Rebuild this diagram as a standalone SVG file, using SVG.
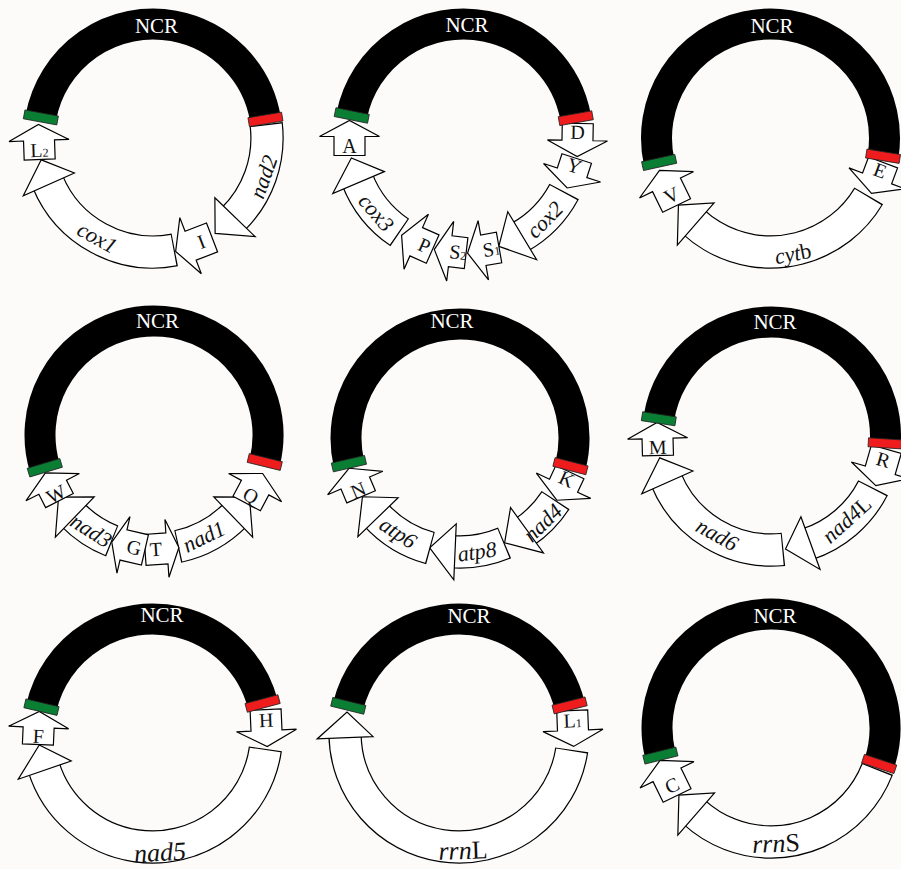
<svg xmlns="http://www.w3.org/2000/svg" xmlns:xlink="http://www.w3.org/1999/xlink" width="901" height="869" viewBox="0 0 901 869">
<style>
.ncr{fill:none;stroke:#000;stroke-width:31}
.ob{fill:none;stroke:#000;stroke-width:33.4}
.ow{fill:none;stroke:#fff;stroke-width:31}
.sh{fill:#fff;stroke:#000;stroke-width:1.2;stroke-linejoin:miter}
.g{fill:#0a7f34;stroke:#222;stroke-width:0.8}
.r{fill:#ee1c1c;stroke:#222;stroke-width:0.8}
.nt{font-family:"Liberation Serif",serif;font-size:21px;fill:#fff;text-anchor:middle}
.gl{font-family:"Liberation Serif",serif;font-size:22px;font-style:italic;fill:#111;text-anchor:middle}
.gl2{font-family:"Liberation Serif",serif;font-size:26px;font-style:italic;fill:#111;text-anchor:middle}
.up{font-style:normal}
.tl{font-family:"Liberation Serif",serif;font-size:20px;fill:#111;text-anchor:middle}
.sub{font-size:12px}
</style>
<defs>
<polygon id="hcw" class="sh" points="86,0 142,0 111,25.5"/>
<polygon id="hccw" class="sh" points="86,0 142,0 111,-25.5"/>
<rect id="bar" x="97" y="-4.5" width="34" height="9"/>
<polygon id="tg34" class="sh" points="-15.5,-17 15.5,-17 15.5,5 29,5 0,17 -29,5 -15.5,5"/>
<polygon id="tt34" class="sh" points="-15.5,17 15.5,17 15.5,-5 29,-5 0,-17 -29,-5 -15.5,-5"/>
<polygon id="tc31" class="sh" points="-15.5,-15.5 15.5,-15.5 15.5,-0.5 30,-0.5 0,15.5 -30,-0.5 -15.5,-0.5"/>
<polygon id="tc32" class="sh" points="-15.5,-16 15.5,-16 15.5,0 30,0 0,16 -30,0 -15.5,0"/>
<polygon id="tc33" class="sh" points="-15.5,-16.5 15.5,-16.5 15.5,0.5 30,0.5 0,16.5 -30,0.5 -15.5,0.5"/>
<polygon id="tc34" class="sh" points="-15.5,-17 15.5,-17 15.5,1 30,1 0,17 -30,1 -15.5,1"/>
<polygon id="tc35" class="sh" points="-15.5,-17.5 15.5,-17.5 15.5,1.5 30,1.5 0,17.5 -30,1.5 -15.5,1.5"/>
<polygon id="tc36" class="sh" points="-15.5,-18 15.5,-18 15.5,2 30,2 0,18 -30,2 -15.5,2"/>
<polygon id="tc37" class="sh" points="-15.5,-18.5 15.5,-18.5 15.5,2.5 30,2.5 0,18.5 -30,2.5 -15.5,2.5"/>
<polygon id="tc38" class="sh" points="-15.5,-19 15.5,-19 15.5,3 30,3 0,19 -30,3 -15.5,3"/>
<polygon id="tc39" class="sh" points="-15.5,-19.5 15.5,-19.5 15.5,3.5 30,3.5 0,19.5 -30,3.5 -15.5,3.5"/>
<polygon id="tq34" class="sh" points="-15.5,17 15.5,17 15.5,-1 30,-1 0,-17 -30,-1 -15.5,-1"/>
</defs>
<rect width="901" height="869" fill="#fdfbfa"/>

<!-- Panel 1 -->
<g id="panel1" transform="translate(153,138)">
 <g id="p1-ncr"><circle class="ncr" r="114" pathLength="360" transform="rotate(190.4)" stroke-dasharray="160.2 999"/><text class="nt" x="3.5" y="-105">NCR</text></g>
 <g id="p1-nad2">
  <circle class="ob" r="114" pathLength="360" transform="rotate(353)" stroke-dasharray="53 999"/>
  <circle class="ow" r="114" pathLength="360" transform="rotate(353.6)" stroke-dasharray="51.8 999"/>
  <use href="#hcw" transform="rotate(44)"/>
  <text class="gl" transform="translate(111,39) rotate(-70.6)" y="7">nad2</text>
 </g>
 <g id="p1-cox1">
  <circle class="ob" r="114" pathLength="360" transform="rotate(79)" stroke-dasharray="79 999"/>
  <circle class="ow" r="114" pathLength="360" transform="rotate(79.6)" stroke-dasharray="77.8 999"/>
  <use href="#hcw" transform="rotate(156)"/>
  <text class="gl" transform="translate(-56,100) rotate(29)" y="7">cox1</text>
 </g>
 <g id="p1-trnI" transform="rotate(69) translate(114,0)"><use href="#tc39"/><text class="tl" transform="translate(0,-8) rotate(-90)" y="7">I</text></g>
 <g id="p1-trnL2" transform="rotate(178) translate(114,0)"><use href="#tc35"/><text class="tl" transform="translate(0,-8) rotate(-180)" y="7">L<tspan class="sub">2</tspan></text></g>
 <g id="p1-marks"><use href="#bar" class="g" transform="rotate(190.4)"/><use href="#bar" class="r" transform="rotate(350.6)"/></g>
</g>

<!-- Panel 2 -->
<g id="panel2" transform="translate(463.5,138)">
 <g id="p2-ncr"><circle class="ncr" r="114" pathLength="360" transform="rotate(191.4)" stroke-dasharray="158.6 999"/><text class="nt" x="3.5" y="-106">NCR</text></g>
 <g id="p2-cox2">
  <circle class="ob" r="114" pathLength="360" transform="rotate(28)" stroke-dasharray="33 999"/>
  <circle class="ow" r="114" pathLength="360" transform="rotate(28.6)" stroke-dasharray="31.8 999"/>
  <use href="#hcw" transform="rotate(59)"/>
  <text class="gl" transform="translate(81.5,82) rotate(-44.8)" y="7">cox2</text>
 </g>
 <g id="p2-cox3">
  <circle class="ob" r="114" pathLength="360" transform="rotate(124)" stroke-dasharray="35 999"/>
  <circle class="ow" r="114" pathLength="360" transform="rotate(124.6)" stroke-dasharray="33.8 999"/>
  <use href="#hcw" transform="rotate(157)"/>
  <text class="gl" transform="translate(-87.5,75) rotate(49.4)" y="7">cox3</text>
 </g>
 <g id="p2-trnD" transform="rotate(1) translate(114,0)"><use href="#tc33"/><text class="tl" transform="translate(0,-8)" y="7">D</text></g>
 <g id="p2-trnY" transform="rotate(18) translate(114,0)"><use href="#tc31"/><text class="tl" transform="translate(0,-8)" y="7">Y</text></g>
 <g id="p2-trnS1" transform="rotate(80) translate(114,0)"><use href="#tc32"/><text class="tl" transform="translate(0,-8) rotate(-90)" y="7">S<tspan class="sub">1</tspan></text></g>
 <g id="p2-trnS2" transform="rotate(96.7) translate(114,0)"><use href="#tc32"/><text class="tl" transform="translate(0,-8) rotate(-90)" y="7">S<tspan class="sub">2</tspan></text></g>
 <g id="p2-trnP" transform="rotate(114) translate(114,0)"><use href="#tc34"/><text class="tl" transform="translate(0,-8) rotate(-90)" y="7">P</text></g>
 <g id="p2-trnA" transform="rotate(180) translate(114,0)"><use href="#tc35"/><text class="tl" transform="translate(0,-8) rotate(-180)" y="7">A</text></g>
 <g id="p2-marks"><use href="#bar" class="g" transform="rotate(191.4)"/><use href="#bar" class="r" transform="rotate(350)"/></g>
</g>

<!-- Panel 3 -->
<g id="panel3" transform="translate(770.5,138)">
 <g id="p3-ncr"><circle class="ncr" r="114" pathLength="360" transform="rotate(167.6)" stroke-dasharray="201.6 999"/><text class="nt" x="1.5" y="-105">NCR</text></g>
 <g id="p3-cytb">
  <circle class="ob" r="114" pathLength="360" transform="rotate(30.5)" stroke-dasharray="102.5 999"/>
  <circle class="ow" r="114" pathLength="360" transform="rotate(31.1)" stroke-dasharray="101.3 999"/>
  <use href="#hcw" transform="rotate(131)"/>
  <text class="gl" transform="translate(22.5,116) rotate(-11)" y="7">cyt<tspan class="up">b</tspan></text>
 </g>
 <g id="p3-trnE" transform="rotate(20.5) translate(114,0)"><use href="#tc33"/><text class="tl" transform="translate(0,-8)" y="7">E</text></g>
 <g id="p3-trnV" transform="rotate(154) translate(114,0)"><use href="#tc39"/><text class="tl" transform="translate(0,-8) rotate(-180)" y="7">V</text></g>
 <g id="p3-marks"><use href="#bar" class="g" transform="rotate(167.6)"/><use href="#bar" class="r" transform="rotate(9.2)"/></g>
</g>

<!-- Panel 4 -->
<g id="panel4" transform="translate(154,435)">
 <g id="p4-ncr"><circle class="ncr" r="114" pathLength="360" transform="rotate(163.3)" stroke-dasharray="210.4 999"/><text class="nt" x="3.5" y="-107">NCR</text></g>
 <g id="p4-nad1">
  <circle class="ob" r="114" pathLength="360" transform="rotate(44)" stroke-dasharray="34 999"/>
  <circle class="ow" r="114" pathLength="360" transform="rotate(44.6)" stroke-dasharray="32.8 999"/>
  <use href="#hccw" transform="rotate(46)"/>
  <text class="gl" transform="translate(50,102) rotate(-26)" y="7">nad1</text>
 </g>
 <g id="p4-nad3">
  <circle class="ob" r="114" pathLength="360" transform="rotate(111.5)" stroke-dasharray="24.5 999"/>
  <circle class="ow" r="114" pathLength="360" transform="rotate(112.1)" stroke-dasharray="23.3 999"/>
  <use href="#hcw" transform="rotate(134)"/>
  <text class="gl" transform="translate(-63,96) rotate(33)" y="7">nad3</text>
 </g>
 <g id="p4-trnQ" transform="rotate(28) translate(114,0)"><use href="#tq34"/><text class="tl" transform="translate(0,8)" y="7">Q</text></g>
 <g id="p4-trnT" transform="rotate(86) translate(114,0)"><use href="#tt34"/><text class="tl" transform="translate(0,6) rotate(-90)" y="7">T</text></g>
 <g id="p4-trnG" transform="rotate(103) translate(114,0)"><use href="#tg34"/><text class="tl" transform="translate(0,-6) rotate(-90)" y="7">G</text></g>
 <g id="p4-trnW" transform="rotate(153) translate(114,0)"><use href="#tc31"/><text class="tl" transform="translate(0,-8) rotate(-180)" y="7">W</text></g>
 <g id="p4-marks"><use href="#bar" class="g" transform="rotate(163.3)"/><use href="#bar" class="r" transform="rotate(13.7)"/></g>
</g>

<!-- Panel 5 -->
<g id="panel5" transform="translate(460,438)">
 <g id="p5-ncr"><circle class="ncr" r="114" pathLength="360" transform="rotate(167)" stroke-dasharray="207.3 999"/><text class="nt" x="-8" y="-110">NCR</text></g>
 <g id="p5-nad4">
  <circle class="ob" r="114" pathLength="360" transform="rotate(33)" stroke-dasharray="23 999"/>
  <circle class="ow" r="114" pathLength="360" transform="rotate(33.6)" stroke-dasharray="21.8 999"/>
  <use href="#hcw" transform="rotate(54)"/>
  <text class="gl" transform="translate(83,85) rotate(-44)" y="7">nad4</text>
 </g>
 <g id="p5-atp8">
  <circle class="ob" r="114" pathLength="360" transform="rotate(67)" stroke-dasharray="27.5 999"/>
  <circle class="ow" r="114" pathLength="360" transform="rotate(67.6)" stroke-dasharray="26.3 999"/>
  <use href="#hcw" transform="rotate(92.5)"/>
  <text class="gl" transform="translate(17,114) rotate(-8.4)" y="7">atp8</text>
 </g>
 <g id="p5-atp6">
  <circle class="ob" r="114" pathLength="360" transform="rotate(105)" stroke-dasharray="33 999"/>
  <circle class="ow" r="114" pathLength="360" transform="rotate(105.6)" stroke-dasharray="31.8 999"/>
  <use href="#hcw" transform="rotate(136)"/>
  <text class="gl" transform="translate(-62,95) rotate(33)" y="7">atp6</text>
 </g>
 <g id="p5-trnK" transform="rotate(25) translate(114,0)"><use href="#tc31"/><text class="tl" transform="translate(0,-8)" y="7">K</text></g>
 <g id="p5-trnN" transform="rotate(157) translate(114,0)"><use href="#tc31"/><text class="tl" transform="translate(0,-8) rotate(-180)" y="7">N</text></g>
 <g id="p5-marks"><use href="#bar" class="g" transform="rotate(167)"/><use href="#bar" class="r" transform="rotate(14.3)"/></g>
</g>

<!-- Panel 6 -->
<g id="panel6" transform="translate(771.5,436)">
 <g id="p6-ncr"><circle class="ncr" r="114" pathLength="360" transform="rotate(188.7)" stroke-dasharray="175 999"/><text class="nt" x="3.5" y="-107">NCR</text></g>
 <g id="p6-nad4L">
  <circle class="ob" r="114" pathLength="360" transform="rotate(27)" stroke-dasharray="45 999"/>
  <circle class="ow" r="114" pathLength="360" transform="rotate(27.6)" stroke-dasharray="43.8 999"/>
  <use href="#hcw" transform="rotate(70)"/>
  <text class="gl" transform="translate(75.5,84) rotate(-42)" y="7">nad4<tspan class="up">L</tspan></text>
 </g>
 <g id="p6-nad6">
  <circle class="ob" r="114" pathLength="360" transform="rotate(84)" stroke-dasharray="74 999"/>
  <circle class="ow" r="114" pathLength="360" transform="rotate(84.6)" stroke-dasharray="72.8 999"/>
  <use href="#hcw" transform="rotate(156)"/>
  <text class="gl" transform="translate(-54.5,99) rotate(29)" y="7">nad6</text>
 </g>
 <g id="p6-trnR" transform="rotate(16) translate(114,0)"><use href="#tc38"/><text class="tl" transform="translate(0,-8)" y="7">R</text></g>
 <g id="p6-trnM" transform="rotate(178.5) translate(114,0)"><use href="#tc33"/><text class="tl" transform="translate(0,-8) rotate(-180)" y="7">M</text></g>
 <g id="p6-marks"><use href="#bar" class="g" transform="rotate(188.7)"/><use href="#bar" class="r" transform="rotate(3.7)"/></g>
</g>

<!-- Panel 7 -->
<g id="panel7" transform="translate(152.5,733)">
 <g id="p7-ncr"><circle class="ncr" r="114" pathLength="360" transform="rotate(193.1)" stroke-dasharray="151.9 999"/><text class="nt" x="9.5" y="-111">NCR</text></g>
 <g id="p7-nad5">
  <circle class="ob" r="114" pathLength="360" transform="rotate(8)" stroke-dasharray="155 999"/>
  <circle class="ow" r="114" pathLength="360" transform="rotate(8.6)" stroke-dasharray="153.8 999"/>
  <use href="#hcw" transform="rotate(161)"/>
  <text class="gl2" transform="translate(7.5,121) rotate(-3.4)" y="7">nad5</text>
 </g>
 <g id="p7-trnH" transform="rotate(357.5) translate(114,0)"><use href="#tc37"/><text class="tl" transform="translate(0,-8)" y="7">H</text></g>
 <g id="p7-trnF" transform="rotate(182.5) translate(114,0)"><use href="#tc33"/><text class="tl" transform="translate(0,-8) rotate(-180)" y="7">F</text></g>
 <g id="p7-marks"><use href="#bar" class="g" transform="rotate(193.1)"/><use href="#bar" class="r" transform="rotate(345)"/></g>
</g>

<!-- Panel 8 -->
<g id="panel8" transform="translate(459,733)">
 <g id="p8-ncr"><circle class="ncr" r="114" pathLength="360" transform="rotate(193.8)" stroke-dasharray="152.2 999"/><text class="nt" x="10" y="-110">NCR</text></g>
 <g id="p8-rrnL">
  <circle class="ob" r="114" pathLength="360" transform="rotate(8.5)" stroke-dasharray="171.1 999"/>
  <circle class="ow" r="114" pathLength="360" transform="rotate(9.1)" stroke-dasharray="169.9 999"/>
  <use href="#hcw" transform="rotate(177.6)"/>
  <text class="gl2" transform="translate(4,119) rotate(-2)" y="7">rrn<tspan class="up">L</tspan></text>
 </g>
 <g id="p8-trnL1" transform="rotate(357.7) translate(114,0)"><use href="#tc36"/><text class="tl" transform="translate(0,-8)" y="7">L<tspan class="sub">1</tspan></text></g>
 <g id="p8-marks"><use href="#bar" class="g" transform="rotate(193.8)"/><use href="#bar" class="r" transform="rotate(346)"/></g>
</g>

<!-- Panel 9 -->
<g id="panel9" transform="translate(771,728)">
 <g id="p9-ncr"><circle class="ncr" r="114" pathLength="360" transform="rotate(166)" stroke-dasharray="212.4 999"/><text class="nt" x="4" y="-105">NCR</text></g>
 <g id="p9-rrnS">
  <circle class="ob" r="114" pathLength="360" transform="rotate(21)" stroke-dasharray="112 999"/>
  <circle class="ow" r="114" pathLength="360" transform="rotate(21.6)" stroke-dasharray="110.8 999"/>
  <use href="#hcw" transform="rotate(131)"/>
  <text class="gl2" transform="translate(5,117) rotate(-2.4)" y="7">rrn<tspan class="up">S</tspan></text>
 </g>
 <g id="p9-trnC" transform="rotate(154) translate(114,0)"><use href="#tc39"/><text class="tl" transform="translate(0,-8) rotate(-180)" y="7">C</text></g>
 <g id="p9-marks"><use href="#bar" class="g" transform="rotate(166)"/><use href="#bar" class="r" transform="rotate(18.4)"/></g>
</g>
</svg>
